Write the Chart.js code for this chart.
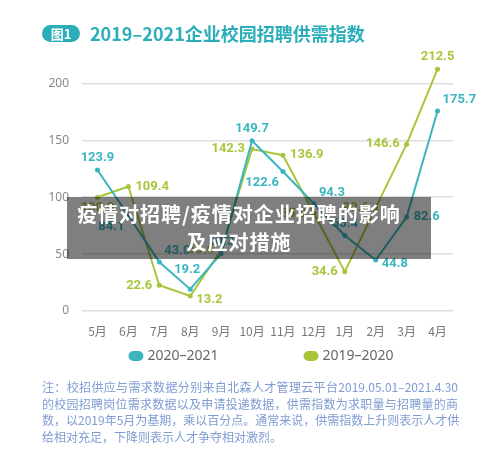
<!DOCTYPE html>
<html>
<head>
<meta charset="utf-8">
<script src="https://cdn.jsdelivr.net/npm/chart.js@4.4.0/dist/chart.umd.min.js"></script>
<style>
  body { margin: 0; width: 500px; height: 457px; background: #fff; position: relative; overflow: hidden;
         font-family: "Noto Sans CJK SC", "Noto Sans", sans-serif; }
  #wrap { position: absolute; left: 0; top: 0; width: 500px; height: 457px; }
  #titulo { position: absolute; left: 42px; top: 22px; height: 22px; line-height: 22px;
            font-size: 18px; font-weight: bold; color: #2aaeb9; white-space: nowrap; }
  #titulo .badge { display: inline-block; width: 38px; height: 17px; line-height: 17px; border-radius: 9px;
                   background: #2aaeb9; color: #fff; font-size: 13px; text-align: center;
                   vertical-align: 2px; margin-right: 10px; }
  #nota { position: absolute; left: 42px; top: 379px; width: 416px; font-size: 12px; line-height: 16.7px;
          color: #7f9cd3; }
  #nota div { white-space: nowrap; text-align: justify; text-align-last: justify; }
  #nota div.ult { text-align-last: left; }
  #capa { position: absolute; left: 67px; top: 197px; width: 344px; height: 59px; padding: 3px 20px 0 0;
          background: rgba(0, 0, 0, 0.5); color: #fff; font-size: 20px; font-weight: bold;
          line-height: 28px; text-align: center; letter-spacing: 1px; }
</style>
</head>
<body>
<div id="wrap"><canvas id="grafico"></canvas></div>
<div id="titulo"><span class="badge">图1</span>2019–2021企业校园招聘供需指数</div>
<div id="nota">
  <div>注：校招供应与需求数据分别来自北森人才管理云平台2019.05.01–2021.4.30</div>
  <div>的校园招聘岗位需求数据以及申请投递数据，供需指数为求职量与招聘量的商</div>
  <div>数，以2019年5月为基期，乘以百分点。通常来说，供需指数上升则表示人才供</div>
  <div class="ult">给相对充足，下降则表示人才争夺相对激烈。</div>
</div>
<div id="capa">疫情对招聘/疫情对企业招聘的影响<br>及应对措施</div>
<script>
// Datos
const meses = ['5月', '6月', '7月', '8月', '9月', '10月', '11月', '12月', '1月', '2月', '3月', '4月'];
const valores2021 = [123.9, 84.1, 43.0, 19.2, 50.3, 149.7, 122.6, 94.3, 66.4, 44.8, 82.6, 175.7];
const valores2020 = [100.0, 109.4, 22.6, 13.2, 53.6, 142.3, 136.9, 85.9, 34.6, 90.6, 146.6, 212.5];
const ticksY = [0, 50, 100, 150, 200];

// Posición de cada etiqueta respecto a su punto
const posiciones2021 = ['top', 'bl', 'tr', 'top2', 'top', 'top', 'bl', 'tr', 'top', 'br', 'right', 'tr'];
const posiciones2020 = ['bottom', 'right', 'left', 'br', 'left', 'left', 'right', 'left', 'left', 'left', 'left', 'top'];

const TEAL = '#3bb6c1';
const VERDE = '#a8c63c';

// Etiquetas de valor sobre cada punto
const etiquetas = {
  id: 'etiquetas',
  afterDatasetsDraw(chart) {
    const ctx = chart.ctx;
    ctx.save();
    ctx.font = 'bold 13px Roboto';
    chart.data.datasets.forEach((ds, i) => {
      const meta = chart.getDatasetMeta(i);
      ctx.fillStyle = ds.borderColor;
      meta.data.forEach((p, j) => {
        const pos = ds.posiciones[j];
        let x = p.x, y = p.y;
        ctx.textAlign = 'center';
        ctx.textBaseline = 'middle';
        if (pos === 'top') { y -= 12; }
        else if (pos === 'top2') { x -= 3; y -= 19; }
        else if (pos === 'bottom') { y += 11; }
        else if (pos === 'left') { x -= 7; ctx.textAlign = 'right'; }
        else if (pos === 'right') { x += 7; ctx.textAlign = 'left'; }
        else if (pos === 'tr') { x += 5; y -= 11; ctx.textAlign = 'left'; }
        else if (pos === 'bl') { x -= 4; y += 11; ctx.textAlign = 'right'; }
        else if (pos === 'br') { x += 6; y += 4; ctx.textAlign = 'left'; }
        ctx.fillText(ds.data[j].toFixed(1), x, y);
      });
    });
    ctx.restore();
  }
};

// Leyenda propia con cajas redondeadas
const leyenda = {
  id: 'leyenda',
  afterDraw(chart) {
    const ctx = chart.ctx;
    ctx.save();
    ctx.font = '14px "Noto Sans"';
    ctx.textBaseline = 'middle';
    const y = 356;
    const gap = 85;
    const anchos = chart.data.datasets.map(ds => 19 + ctx.measureText(ds.label).width);
    let x = 261 - (anchos.reduce((a, b) => a + b, 0) + gap) / 2;
    chart.data.datasets.forEach((ds, i) => {
      ctx.fillStyle = ds.borderColor;
      ctx.beginPath();
      ctx.roundRect(x, y - 5, 15, 10, 5);
      ctx.fill();
      ctx.fillStyle = '#666';
      ctx.fillText(ds.label, x + 19, y);
      x += anchos[i] + gap;
    });
    ctx.restore();
  }
};

const ctx = document.getElementById('grafico').getContext('2d');
new Chart(ctx, {
  type: 'line',
  data: {
    labels: meses,
    datasets: [
      { label: '2020–2021', data: valores2021, posiciones: posiciones2021, borderColor: TEAL,
        backgroundColor: TEAL, pointBackgroundColor: TEAL, borderWidth: 2, pointRadius: 2.5,
        pointBorderWidth: 0, tension: 0, fill: false },
      { label: '2019–2020', data: valores2020, posiciones: posiciones2020, borderColor: VERDE,
        backgroundColor: VERDE, pointBackgroundColor: VERDE, borderWidth: 2, pointRadius: 2.5,
        pointBorderWidth: 0, tension: 0, fill: false }
    ]
  },
  options: {
    responsive: true,
    maintainAspectRatio: false,
    animation: false,
    layout: { padding: { left: 0, right: 47, top: 55, bottom: 106 } },
    plugins: { legend: { display: false }, tooltip: { enabled: false } },
    scales: {
      x: {
        offset: true,
        grid: { display: false },
        border: { display: false },
        ticks: { color: '#777', font: { size: 12, family: 'Noto Sans CJK SC' }, padding: 5, maxRotation: 0 },
        afterFit(scale) { scale.height = 40; }
      },
      y: {
        min: 0,
        max: 225,
        afterBuildTicks(axis) { axis.ticks = ticksY.map(v => ({ value: v })); },
        grid: { color: '#dedede', lineWidth: 1.5, drawTicks: false },
        border: { display: false },
        ticks: { color: '#888', font: { size: 12, family: 'Noto Sans' }, padding: 13 },
        afterFit(scale) { scale.width = 82; }
      }
    }
  },
  plugins: [etiquetas, leyenda]
});
</script>
</body>
</html>
